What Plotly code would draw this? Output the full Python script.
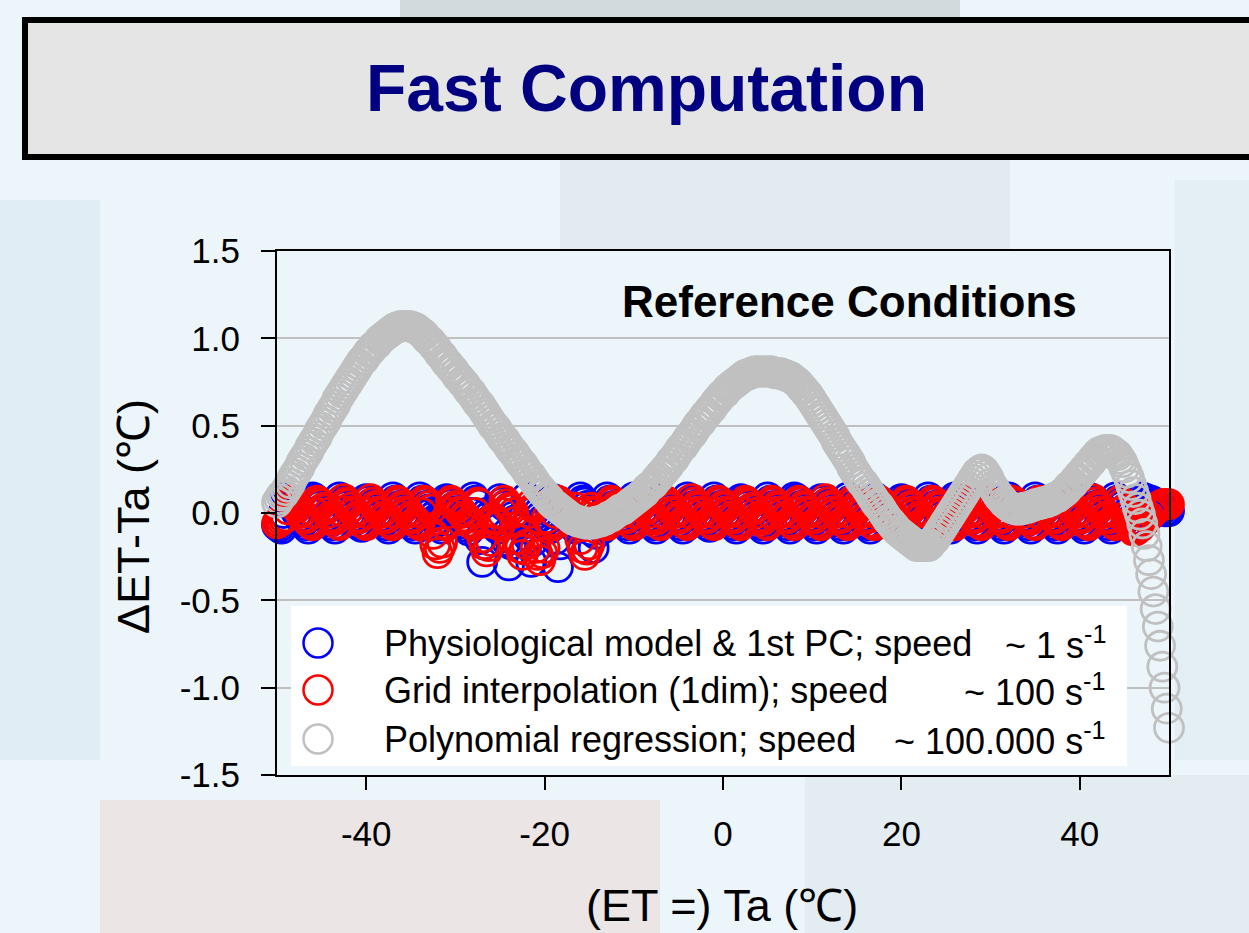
import numpy as np
import plotly.graph_objects as go

# ---------------- data ----------------
TA_START, TA_STOP, STEP = -50.0, 50.0, 0.25
ta = np.round(np.arange(TA_START, TA_STOP + STEP / 2, STEP), 2)   # Ta (°C)

# Physiological model & 1st PC : ET - Ta (°C), Ta = -50 ... 50 step 0.25
physio = [
    -0.07, -0.08, -0.09, 0.00,                                                     # -50
    0.09, 0.07, 0.06, 0.04, 0.02, 0.00, -0.02, -0.04, -0.05, -0.07, -0.09, 0.00,   # -49
    0.09, 0.08, 0.06, 0.04, 0.02, 0.01, -0.02, -0.03, -0.05, -0.07, -0.09, 0.00,   # -46
    0.09, 0.07, 0.06, 0.04, 0.02, 0.00, -0.02, -0.04, -0.06, -0.07, -0.08, 0.01,   # -43
    0.08, 0.07, 0.05, 0.04, 0.02, 0.00, -0.02, -0.04, -0.05, -0.07, -0.09, 0.00,   # -40
    0.09, 0.07, 0.06, 0.04, 0.02, 0.00, -0.02, -0.04, -0.05, -0.07, -0.09, 0.00,   # -37
    0.09, 0.07, 0.06, 0.04, 0.02, 0.00, -0.02, -0.04, -0.05, -0.07, -0.09, 0.00,   # -34
    0.08, 0.07, 0.05, 0.03, 0.01, 0.00, -0.03, -0.04, -0.06, -0.08, -0.10, 0.00,   # -31
    0.09, 0.07, 0.05, -0.15, -0.28, -0.18, 0.00, -0.02, -0.04, -0.05, -0.07, -0.09,  # -28
    0.08, 0.06, 0.04, -0.16, -0.30, -0.18, -0.02, -0.04, -0.05, -0.07, -0.09, 0.00,  # -25
    0.09, -0.14, -0.28, -0.16, 0.02, 0.00, -0.02, -0.04, -0.05, -0.07, -0.09, 0.00,  # -22
    0.08, -0.15, -0.31, -0.18, 0.02, 0.00, -0.02, -0.04, -0.05, -0.07, -0.09, 0.00,  # -19
    0.09, 0.07, 0.06, 0.04, 0.02, -0.10, -0.20, -0.12, -0.05, -0.07, -0.09, 0.00,  # -16
    0.09, 0.07, 0.06, 0.04, 0.02, 0.00, -0.02, -0.04, -0.05, -0.07, -0.09, 0.00,   # -13
    0.09, 0.08, 0.06, 0.04, 0.02, 0.00, -0.02, -0.04, -0.06, -0.07, -0.09, 0.00,   # -10
    0.08, 0.07, 0.05, 0.04, 0.02, 0.00, -0.02, -0.03, -0.05, -0.07, -0.09, 0.00,   # -7
    0.09, 0.07, 0.06, 0.04, 0.02, 0.00, -0.02, -0.04, -0.05, -0.07, -0.08, 0.00,   # -4
    0.09, 0.07, 0.06, 0.04, 0.02, 0.00, -0.02, -0.04, -0.05, -0.07, -0.09, 0.00,   # -1
    0.08, 0.07, 0.05, 0.04, 0.02, 0.00, -0.02, -0.04, -0.06, -0.07, -0.09, 0.00,   # 2
    0.09, 0.07, 0.06, 0.04, 0.02, 0.00, -0.02, -0.04, -0.05, -0.07, -0.09, 0.00,   # 5
    0.09, 0.08, 0.06, 0.04, 0.02, 0.00, -0.02, -0.04, -0.05, -0.07, -0.09, 0.00,   # 8
    0.08, 0.07, 0.05, 0.04, 0.02, 0.00, -0.02, -0.04, -0.05, -0.07, -0.09, 0.00,   # 11
    0.09, 0.07, 0.06, 0.04, 0.02, 0.00, -0.02, -0.04, -0.06, -0.07, -0.09, 0.00,   # 14
    0.09, 0.07, 0.06, 0.04, 0.02, 0.00, -0.02, -0.04, -0.05, -0.07, -0.09, 0.00,   # 17
    0.08, 0.07, 0.05, 0.04, 0.02, 0.00, -0.02, -0.04, -0.05, -0.07, -0.09, 0.00,   # 20
    0.09, 0.07, 0.06, 0.04, 0.02, 0.00, -0.02, -0.04, -0.05, -0.07, -0.09, 0.00,   # 23
    0.09, 0.08, 0.06, 0.04, 0.02, 0.00, -0.02, -0.04, -0.06, -0.07, -0.09, 0.00,   # 26
    0.08, 0.07, 0.05, 0.04, 0.02, 0.00, -0.02, -0.04, -0.05, -0.07, -0.09, 0.00,   # 29
    0.09, 0.07, 0.06, 0.04, 0.02, 0.00, -0.02, -0.04, -0.05, -0.07, -0.09, 0.00,   # 32
    0.09, 0.07, 0.06, 0.04, 0.02, 0.00, -0.02, -0.04, -0.05, -0.07, -0.09, 0.00,   # 35
    0.08, 0.07, 0.05, 0.04, 0.02, 0.00, -0.02, -0.04, -0.06, -0.07, -0.09, 0.00,   # 38
    0.09, 0.07, 0.06, 0.04, 0.02, 0.00, -0.02, -0.04, -0.05, -0.07, -0.09, 0.00,   # 41
    0.09, 0.07, 0.06, 0.04, 0.02, 0.00, -0.02, -0.04, -0.05, -0.07, -0.08, 0.00,   # 44
    0.09, 0.08, 0.08, 0.07, 0.07, 0.06, 0.05, 0.04, 0.03, 0.02, 0.01, 0.01, 0.01,  # 47 ... 50
]

# Grid interpolation (1dim)
grid = [
    -0.06, -0.05, -0.04, -0.03, -0.02, 0.02,                                       # -50
    0.07, 0.06, 0.04, 0.03, 0.01, 0.00, -0.02, -0.03, -0.05, -0.06, -0.07, 0.00,   # -48.5
    0.07, 0.06, 0.05, 0.03, 0.02, 0.00, -0.02, -0.03, -0.04, -0.06, -0.07, 0.01,   # -45.5
    0.08, 0.06, 0.05, 0.03, 0.01, 0.00, -0.02, -0.03, -0.05, -0.06, -0.07, 0.00,   # -42.5
    0.08, 0.06, 0.04, 0.03, 0.01, 0.00, -0.02, -0.03, -0.05, -0.06, -0.07, 0.00,   # -39.5
    0.07, 0.06, 0.04, 0.03, 0.01, 0.00, -0.02, -0.03, -0.05, -0.06, -0.07, 0.00,   # -36.5
    0.07, 0.06, 0.04, 0.02, -0.12, -0.18, -0.23, -0.20, -0.17, -0.06, -0.07, 0.00,  # -33.5
    0.07, 0.06, 0.04, 0.03, 0.01, 0.00, -0.02, -0.03, -0.05, -0.06, -0.07, 0.00,   # -30.5
    0.06, 0.05, -0.14, -0.18, -0.22, -0.19, -0.16, -0.03, -0.04, -0.06, -0.07, 0.00,  # -27.5
    0.07, 0.05, 0.03, 0.02, 0.00, -0.05, -0.15, -0.20, -0.24, -0.21, -0.18, 0.00,  # -24.5
    0.05, 0.03, -0.20, -0.24, -0.27, -0.23, -0.20, -0.03, -0.05, -0.06, -0.07, 0.00,  # -21.5
    0.07, 0.06, 0.04, 0.03, 0.01, 0.00, -0.02, -0.03, 0.03, 0.00, -0.15, -0.20,    # -18.5
    -0.24, -0.21, -0.18, 0.03, 0.01, 0.00, -0.02, -0.03, -0.05, -0.06, -0.07, 0.00,  # -15.5
    0.07, 0.06, 0.04, 0.03, 0.01, 0.00, -0.02, -0.03, -0.05, -0.06, -0.07, 0.00,   # -12.5
    0.07, 0.06, 0.05, 0.03, 0.02, 0.00, -0.02, -0.03, -0.04, -0.06, -0.07, 0.00,   # -9.5
    0.07, 0.06, 0.04, 0.03, 0.01, 0.00, -0.02, -0.03, -0.05, -0.06, -0.07, 0.00,   # -6.5
    0.08, 0.06, 0.04, 0.03, 0.01, 0.00, -0.02, -0.03, -0.05, -0.06, -0.07, 0.00,   # -3.5
    0.07, 0.06, 0.04, 0.03, 0.01, 0.00, -0.02, -0.03, -0.05, -0.06, -0.07, 0.00,   # -0.5
    0.07, 0.06, 0.05, 0.03, 0.02, 0.00, -0.02, -0.03, -0.04, -0.06, -0.07, 0.00,   # 2.5
    0.07, 0.06, 0.04, 0.03, 0.01, 0.00, -0.02, -0.03, -0.05, -0.06, -0.07, 0.00,   # 5.5
    0.07, 0.06, 0.04, 0.03, 0.01, 0.00, -0.02, -0.03, -0.05, -0.06, -0.07, 0.00,   # 8.5
    0.08, 0.06, 0.04, 0.03, 0.01, 0.00, -0.02, -0.03, -0.05, -0.06, -0.07, 0.00,   # 11.5
    0.07, 0.06, 0.04, 0.03, 0.01, 0.00, -0.02, -0.03, -0.05, -0.06, -0.07, 0.00,   # 14.5
    0.07, 0.06, 0.05, 0.03, 0.02, 0.00, -0.02, -0.03, -0.04, -0.06, -0.07, 0.00,   # 17.5
    0.07, 0.06, 0.04, 0.03, 0.01, 0.00, -0.02, -0.03, -0.05, -0.06, -0.07, 0.00,   # 20.5
    0.07, 0.06, 0.04, 0.03, 0.01, 0.00, -0.02, -0.03, -0.05, -0.06, -0.07, 0.00,   # 23.5
    0.08, 0.06, 0.04, 0.03, 0.01, 0.00, -0.02, -0.03, -0.05, -0.06, -0.07, 0.00,   # 26.5
    0.07, 0.06, 0.04, 0.03, 0.01, 0.00, -0.02, -0.03, -0.05, -0.06, -0.07, 0.00,   # 29.5
    0.07, 0.06, 0.05, 0.03, 0.02, 0.00, -0.02, -0.03, -0.04, -0.06, -0.07, 0.00,   # 32.5
    0.07, 0.06, 0.04, 0.03, 0.01, 0.00, -0.02, -0.03, -0.05, -0.06, -0.07, 0.00,   # 35.5
    0.07, 0.06, 0.04, 0.03, 0.01, 0.00, -0.02, -0.03, -0.05, -0.06, -0.07, 0.00,   # 38.5
    0.08, 0.06, 0.04, 0.03, 0.01, 0.00, -0.02, -0.03, -0.05, -0.06, -0.07, 0.00,   # 41.5
    0.07, 0.05, 0.02, -0.02, -0.06, -0.08, -0.10, -0.10, -0.09, -0.08, -0.06, -0.05,  # 44.5
    -0.03, -0.02, 0.00, 0.01, 0.02, 0.03, 0.04, 0.05, 0.05, 0.05, 0.05,            # 47.5 ... 50
]

# Polynomial regression
poly = [
    0.06, 0.08, 0.10, 0.11, 0.13, 0.15, 0.17, 0.20, 0.22, 0.24, 0.26, 0.29, 0.31, 0.33, 0.35, 0.38, 0.40, 0.42, 0.44, 0.47,
    0.49, 0.51, 0.53, 0.56, 0.58, 0.60, 0.62, 0.65, 0.67, 0.69, 0.71, 0.73, 0.75, 0.77, 0.79, 0.81, 0.83, 0.85, 0.87, 0.88,
    0.90, 0.92, 0.93, 0.95, 0.96, 0.97, 0.99, 1.00, 1.01, 1.02, 1.03, 1.04, 1.05, 1.06, 1.06, 1.07, 1.07, 1.07, 1.07, 1.07,
    1.07, 1.06, 1.06, 1.05, 1.04, 1.03, 1.02, 1.00, 0.99, 0.98, 0.96, 0.95, 0.93, 0.91, 0.90, 0.88, 0.86, 0.85, 0.83, 0.82,
    0.80, 0.78, 0.77, 0.75, 0.74, 0.72, 0.70, 0.69, 0.67, 0.65, 0.63, 0.62, 0.60, 0.58, 0.56, 0.54, 0.52, 0.50, 0.49, 0.47,
    0.45, 0.43, 0.42, 0.40, 0.38, 0.36, 0.35, 0.33, 0.31, 0.29, 0.28, 0.26, 0.24, 0.22, 0.21, 0.19, 0.17, 0.15, 0.14, 0.12,
    0.11, 0.09, 0.08, 0.06, 0.05, 0.04, 0.03, 0.02, 0.01, 0.00, -0.01, -0.02, -0.03, -0.04, -0.04, -0.05, -0.05, -0.05, -0.06, -0.06,
    -0.06, -0.06, -0.06, -0.05, -0.05, -0.05, -0.04, -0.04, -0.03, -0.02, -0.02, -0.01, 0.00, 0.01, 0.02, 0.02, 0.03, 0.04, 0.05, 0.06,
    0.07, 0.08, 0.09, 0.10, 0.11, 0.12, 0.14, 0.15, 0.16, 0.17, 0.19, 0.20, 0.22, 0.23, 0.25, 0.26, 0.28, 0.30, 0.31, 0.33,
    0.35, 0.37, 0.38, 0.40, 0.42, 0.44, 0.45, 0.47, 0.49, 0.51, 0.52, 0.54, 0.56, 0.57, 0.59, 0.60, 0.62, 0.64, 0.65, 0.67,
    0.68, 0.69, 0.71, 0.72, 0.73, 0.74, 0.75, 0.76, 0.77, 0.78, 0.79, 0.79, 0.80, 0.80, 0.81, 0.81, 0.81, 0.81, 0.81, 0.81,
    0.81, 0.81, 0.81, 0.80, 0.80, 0.80, 0.80, 0.79, 0.79, 0.78, 0.78, 0.77, 0.76, 0.75, 0.74, 0.72, 0.71, 0.69, 0.68, 0.66,
    0.64, 0.62, 0.60, 0.58, 0.56, 0.54, 0.52, 0.50, 0.48, 0.46, 0.44, 0.41, 0.39, 0.37, 0.35, 0.33, 0.31, 0.29, 0.26, 0.24,
    0.22, 0.20, 0.18, 0.17, 0.15, 0.13, 0.11, 0.09, 0.07, 0.05, 0.04, 0.02, 0.00, -0.02, -0.04, -0.05, -0.07, -0.08, -0.10, -0.11,
    -0.12, -0.13, -0.14, -0.15, -0.16, -0.17, -0.18, -0.19, -0.19, -0.19, -0.19, -0.19, -0.19, -0.18, -0.16, -0.15, -0.13, -0.11, -0.09, -0.07,
    -0.05, -0.03, -0.01, 0.01, 0.03, 0.05, 0.07, 0.09, 0.11, 0.13, 0.15, 0.17, 0.19, 0.21, 0.23, 0.24, 0.25, 0.24, 0.22, 0.20,
    0.17, 0.15, 0.13, 0.11, 0.09, 0.08, 0.06, 0.05, 0.04, 0.03, 0.03, 0.02, 0.02, 0.02, 0.02, 0.03, 0.03, 0.03, 0.04, 0.04,
    0.05, 0.05, 0.05, 0.06, 0.06, 0.06, 0.07, 0.07, 0.08, 0.09, 0.09, 0.10, 0.11, 0.12, 0.13, 0.15, 0.16, 0.17, 0.19, 0.20,
    0.22, 0.23, 0.25, 0.26, 0.28, 0.29, 0.31, 0.32, 0.34, 0.35, 0.35, 0.36, 0.36, 0.36, 0.36, 0.35, 0.34, 0.33, 0.31, 0.29,
    0.26, 0.23, 0.20, 0.16, 0.12, 0.08, 0.03, -0.01, -0.06, -0.12, -0.19, -0.27, -0.35, -0.45, -0.55, -0.65, -0.76, -0.88, -1.00, -1.12,
    -1.23,
]

assert len(physio) == len(grid) == len(poly) == len(ta), (len(physio), len(grid), len(poly), len(ta))

x_ticks = [-40, -20, 0, 20, 40]
x_ticklabels = ["-40", "-20", "0", "20", "40"]
y_ticks = [-1.5, -1.0, -0.5, 0.0, 0.5, 1.0, 1.5]
y_ticklabels = ["-1.5", "-1.0", "-0.5", "0.0", "0.5", "1.0", "1.5"]

series_names = [
    "Physiological model & 1st PC; speed",
    "Grid interpolation (1dim); speed",
    "Polynomial regression; speed",
]
series_speeds = ["~ 1 s<sup>-1</sup>", "~ 100 s<sup>-1</sup>", "~ 100.000 s<sup>-1</sup>"]
series_colors = ["#0000ff", "#ff0000", "#c0c0c0"]

# ---------------- layout geometry ----------------
W, H = 1249, 933
L, R, T, B = 277, 1169, 251, 775
FONT = "Liberation Sans, Arial, Helvetica, sans-serif"


def px(x):
    return (x - L) / (R - L)


def py(y):
    return (B - y) / (B - T)


fig = go.Figure()
for ys, col in zip([physio, grid, poly], series_colors):
    fig.add_trace(go.Scatter(
        x=ta, y=ys, mode="markers", showlegend=False, cliponaxis=False,
        marker=dict(symbol="circle-open", size=29, color=col,
                    line=dict(width=2.8, color=col)),
        hoverinfo="skip"))

shapes = []
# faint slide background image impressions
bg = [
    (400, -5, 960, 20, "rgba(170,178,178,0.40)"),
    (560, 158, 1010, 250, "rgba(200,208,212,0.25)"),
    (0, 200, 100, 760, "rgba(190,215,232,0.25)"),
    (100, 800, 660, 940, "rgba(235,200,190,0.35)"),
    (805, 775, 1260, 940, "rgba(215,222,226,0.40)"),
    (1175, 180, 1260, 760, "rgba(205,222,232,0.25)"),
]
for x0, y0, x1, y1, c in bg:
    shapes.append(dict(type="rect", xref="paper", yref="paper", layer="below",
                       x0=px(x0), x1=px(x1), y0=py(y1), y1=py(y0),
                       fillcolor=c, line=dict(width=0)))
# title box
shapes.append(dict(type="rect", xref="paper", yref="paper", layer="above",
                   x0=px(25), x1=px(1265), y0=py(157), y1=py(20),
                   fillcolor="#e5e5e5", line=dict(color="black", width=6)))
# legend box
shapes.append(dict(type="rect", xref="paper", yref="paper", layer="above",
                   x0=px(291), x1=px(1127), y0=py(766), y1=py(606),
                   fillcolor="white", line=dict(width=0)))
row_y = [643, 690, 739]
annotations = []
for i, (nm, sp, col) in enumerate(zip(series_names, series_speeds, series_colors)):
    cy = row_y[i]
    shapes.append(dict(type="circle", xref="paper", yref="paper", layer="above",
                       x0=px(318 - 14.5), x1=px(318 + 14.5),
                       y0=py(cy + 14.5), y1=py(cy - 14.5),
                       line=dict(color=col, width=2.5)))
    annotations.append(dict(xref="paper", yref="paper", x=px(382), y=py(cy),
                            xanchor="left", yanchor="middle", showarrow=False,
                            text=nm, font=dict(family=FONT, size=36, color="black")))
    annotations.append(dict(xref="paper", yref="paper", x=px(1108), y=py(cy),
                            xanchor="right", yanchor="middle", showarrow=False,
                            text=sp, font=dict(family=FONT, size=36, color="black")))

annotations += [
    dict(xref="paper", yref="paper", x=px(646), y=py(88), xanchor="center",
         yanchor="middle", showarrow=False, text="<b>Fast Computation</b>",
         font=dict(family=FONT, size=66, color="#000080")),
    dict(xref="paper", yref="paper", x=px(849), y=py(301), xanchor="center",
         yanchor="middle", showarrow=False, text="<b>Reference Conditions</b>",
         font=dict(family=FONT, size=44, color="black")),
    dict(xref="paper", yref="paper", x=px(722), y=py(905), xanchor="center",
         yanchor="middle", showarrow=False, text="(ET =) Ta (℃)",
         font=dict(family=FONT, size=45, color="black")),
    dict(xref="paper", yref="paper", x=px(133), y=py(517), xanchor="center",
         yanchor="middle", showarrow=False, text="ΔET-Ta (℃)", textangle=-90,
         font=dict(family=FONT, size=45, color="black")),
]

fig.update_layout(
    width=W, height=H,
    margin=dict(l=L, r=W - R, t=T, b=H - B, pad=0),
    paper_bgcolor="#ecf5fa",
    plot_bgcolor="rgba(0,0,0,0)",
    showlegend=False,
    shapes=shapes,
    annotations=annotations,
    xaxis=dict(range=[TA_START, TA_STOP], tickvals=x_ticks, ticktext=x_ticklabels,
               showgrid=False, zeroline=False, showline=True, mirror=True,
               linecolor="black", linewidth=2, ticks="outside", ticklen=13,
               tickwidth=2, tickcolor="black", ticklabelstandoff=14,
               tickfont=dict(family=FONT, size=35, color="black")),
    yaxis=dict(range=[-1.5, 1.5], tickvals=y_ticks, ticktext=y_ticklabels,
               showgrid=True, gridcolor="#c0c0c0", gridwidth=2, zeroline=False,
               showline=True, mirror=True, linecolor="black", linewidth=2,
               ticks="outside", ticklen=14, tickwidth=2, tickcolor="black",
               ticklabelstandoff=14,
               tickfont=dict(family=FONT, size=35, color="black")),
)

fig.write_html("out.html")
